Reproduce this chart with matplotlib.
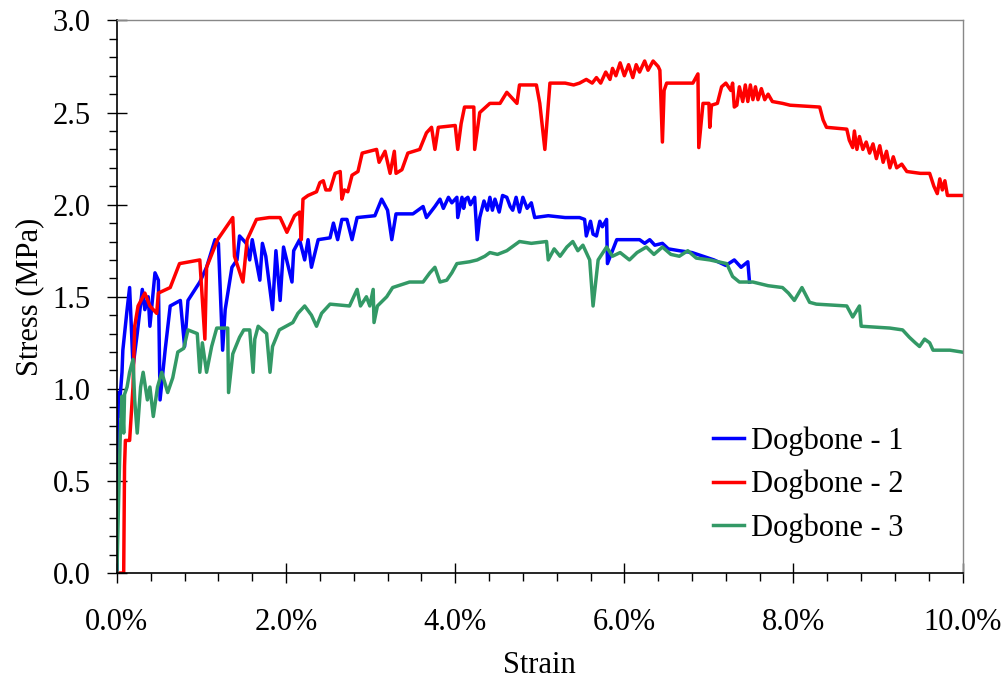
import matplotlib
matplotlib.use("Agg")
import matplotlib.pyplot as plt
from matplotlib.ticker import MultipleLocator, FuncFormatter

plt.rcParams['font.family'] = ['Liberation Serif', 'DejaVu Serif']

# strain in %, stress in MPa
strain_1 = [0.00, 0.01, 0.02, 0.06, 0.07, 0.12, 0.15, 0.17, 0.19, 0.24,
            0.30, 0.33, 0.37, 0.39, 0.45, 0.49, 0.51, 0.57, 0.63, 0.75,
            0.80, 0.84, 0.98, 1.06, 1.16, 1.20, 1.25, 1.28, 1.36, 1.42,
            1.45, 1.53, 1.57, 1.60, 1.69, 1.72, 1.76, 1.84, 1.88, 1.93,
            1.97, 2.07, 2.09, 2.16, 2.22, 2.26, 2.30, 2.38, 2.52, 2.56,
            2.61, 2.66, 2.72, 2.78, 2.84, 3.05, 3.13, 3.20, 3.25, 3.30,
            3.50, 3.62, 3.66, 3.76, 3.82, 3.86, 3.92, 3.96, 4.02, 4.03,
            4.08, 4.10, 4.12, 4.15, 4.18, 4.23, 4.26, 4.29, 4.34, 4.38,
            4.41, 4.44, 4.47, 4.52, 4.56, 4.61, 4.65, 4.68, 4.72, 4.76,
            4.80, 4.85, 4.90, 4.94, 5.10, 5.30, 5.47, 5.53, 5.55, 5.60,
            5.63, 5.67, 5.71, 5.74, 5.79, 5.80, 5.91, 6.18, 6.24, 6.30,
            6.36, 6.45, 6.52, 6.65, 6.80, 6.93, 7.06, 7.20, 7.30, 7.38,
            7.46, 7.48]
stress_1 = [0.00, 0.98, 0.85, 1.09, 1.21, 1.43, 1.55, 1.34, 1.12, 1.30,
            1.54, 1.43, 1.50, 1.34, 1.63, 1.59, 0.94, 1.21, 1.45, 1.48,
            1.23, 1.48, 1.58, 1.66, 1.81, 1.79, 1.21, 1.43, 1.66, 1.70,
            1.83, 1.79, 1.70, 1.81, 1.59, 1.79, 1.72, 1.43, 1.75, 1.48,
            1.77, 1.58, 1.75, 1.81, 1.70, 1.81, 1.66, 1.81, 1.82, 1.90,
            1.81, 1.92, 1.92, 1.81, 1.93, 1.94, 2.03, 1.97, 1.81, 1.95,
            1.95, 1.99, 1.93, 1.99, 2.03, 1.98, 2.04, 2.01, 2.04, 1.93,
            2.04, 1.98, 2.03, 2.04, 2.00, 2.04, 1.81, 1.93, 2.02, 1.97,
            2.04, 1.97, 2.03, 1.96, 2.05, 2.04, 1.99, 1.97, 2.04, 1.96,
            2.04, 1.98, 2.01, 1.93, 1.94, 1.93, 1.93, 1.92, 1.83, 1.91,
            1.84, 1.83, 1.91, 1.88, 1.92, 1.68, 1.81, 1.81, 1.79, 1.81,
            1.78, 1.79, 1.76, 1.75, 1.74, 1.72, 1.70, 1.67, 1.70, 1.66,
            1.69, 1.58]

strain_2 = [0.02, 0.08, 0.09, 0.10, 0.15, 0.19, 0.21, 0.25, 0.33, 0.39,
            0.47, 0.49, 0.63, 0.74, 0.98, 1.04, 1.06, 1.19, 1.37, 1.39,
            1.49, 1.54, 1.65, 1.80, 1.93, 2.01, 2.10, 2.16, 2.18, 2.20,
            2.26, 2.36, 2.40, 2.44, 2.47, 2.52, 2.58, 2.64, 2.66, 2.69,
            2.73, 2.78, 2.85, 2.90, 3.07, 3.10, 3.17, 3.23, 3.28, 3.30,
            3.37, 3.44, 3.58, 3.66, 3.72, 3.76, 3.80, 4.00, 4.03, 4.07,
            4.11, 4.22, 4.23, 4.29, 4.41, 4.53, 4.61, 4.73, 4.76, 4.96,
            5.00, 5.06, 5.12, 5.30, 5.40, 5.47, 5.55, 5.62, 5.67, 5.72,
            5.78, 5.83, 5.86, 5.90, 5.95, 6.00, 6.05, 6.10, 6.14, 6.18,
            6.24, 6.28, 6.34, 6.40, 6.42, 6.45, 6.47, 6.50, 6.81, 6.87,
            6.88, 6.93, 7.00, 7.01, 7.03, 7.10, 7.15, 7.20, 7.26, 7.28,
            7.30, 7.33, 7.36, 7.40, 7.43, 7.46, 7.49, 7.52, 7.55, 7.58,
            7.62, 7.66, 7.70, 7.75, 7.87, 7.96, 8.31, 8.35, 8.39, 8.63,
            8.66, 8.70, 8.72, 8.75, 8.78, 8.82, 8.86, 8.90, 8.94, 8.98,
            9.02, 9.06, 9.10, 9.14, 9.18, 9.22, 9.28, 9.34, 9.50, 9.61,
            9.66, 9.70, 9.73, 9.76, 9.79, 9.82, 10.00]
stress_2 = [0.00, 0.00, 0.58, 0.72, 0.72, 1.01, 1.34, 1.45, 1.52, 1.45,
            1.41, 1.52, 1.55, 1.68, 1.70, 1.27, 1.66, 1.81, 1.93, 1.72,
            1.58, 1.81, 1.92, 1.93, 1.93, 1.85, 1.94, 1.96, 1.81, 2.03,
            2.05, 2.07, 2.12, 2.13, 2.08, 2.08, 2.17, 2.18, 2.03, 2.08,
            2.07, 2.16, 2.18, 2.28, 2.30, 2.23, 2.29, 2.17, 2.29, 2.17,
            2.19, 2.28, 2.30, 2.39, 2.42, 2.30, 2.42, 2.43, 2.30, 2.44,
            2.53, 2.53, 2.30, 2.50, 2.55, 2.55, 2.61, 2.55, 2.65, 2.65,
            2.55, 2.30, 2.66, 2.66, 2.65, 2.66, 2.68, 2.66, 2.69, 2.66,
            2.72, 2.68, 2.74, 2.70, 2.77, 2.70, 2.76, 2.69, 2.76, 2.72,
            2.78, 2.73, 2.78, 2.75, 2.73, 2.34, 2.62, 2.66, 2.66, 2.71,
            2.31, 2.55, 2.55, 2.42, 2.54, 2.55, 2.64, 2.66, 2.62, 2.66,
            2.53, 2.54, 2.64, 2.56, 2.65, 2.56, 2.65, 2.57, 2.64, 2.57,
            2.63, 2.57, 2.60, 2.56, 2.55, 2.54, 2.53, 2.46, 2.42, 2.41,
            2.35, 2.31, 2.40, 2.30, 2.37, 2.30, 2.34, 2.28, 2.33, 2.25,
            2.32, 2.23, 2.29, 2.20, 2.26, 2.20, 2.22, 2.18, 2.17, 2.17,
            2.10, 2.06, 2.14, 2.08, 2.13, 2.05, 2.05]

strain_3 = [0.00, 0.02, 0.04, 0.06, 0.08, 0.09, 0.12, 0.15, 0.19, 0.21,
            0.24, 0.28, 0.31, 0.36, 0.39, 0.43, 0.48, 0.53, 0.60, 0.66,
            0.72, 0.79, 0.84, 0.95, 0.98, 1.01, 1.06, 1.12, 1.18, 1.31,
            1.32, 1.37, 1.45, 1.50, 1.57, 1.61, 1.63, 1.67, 1.77, 1.81,
            1.84, 1.92, 2.08, 2.14, 2.22, 2.30, 2.36, 2.42, 2.52, 2.75,
            2.84, 2.88, 2.95, 2.99, 3.03, 3.04, 3.08, 3.19, 3.26, 3.46,
            3.62, 3.70, 3.76, 3.82, 3.90, 3.96, 4.02, 4.17, 4.26, 4.35,
            4.41, 4.50, 4.61, 4.70, 4.76, 4.90, 5.08, 5.10, 5.17, 5.24,
            5.32, 5.39, 5.45, 5.51, 5.59, 5.63, 5.69, 5.79, 5.86, 5.95,
            6.06, 6.15, 6.26, 6.35, 6.45, 6.55, 6.65, 6.75, 6.85, 7.01,
            7.21, 7.28, 7.36, 7.52, 7.70, 7.87, 7.94, 8.01, 8.10, 8.19,
            8.27, 8.63, 8.70, 8.78, 8.80, 9.14, 9.29, 9.37, 9.44, 9.49,
            9.55, 9.61, 9.65, 9.85, 9.99]
stress_3 = [0.00, 0.40, 0.76, 0.96, 0.76, 0.97, 1.01, 1.09, 1.16, 0.94,
            0.76, 1.01, 1.09, 0.94, 1.01, 0.85, 1.01, 1.09, 0.98, 1.06,
            1.20, 1.22, 1.32, 1.30, 1.09, 1.25, 1.09, 1.23, 1.33, 1.33,
            0.98, 1.19, 1.28, 1.32, 1.32, 1.09, 1.27, 1.34, 1.30, 1.09,
            1.23, 1.32, 1.36, 1.41, 1.45, 1.40, 1.34, 1.41, 1.46, 1.45,
            1.54, 1.45, 1.50, 1.45, 1.54, 1.36, 1.45, 1.50, 1.55, 1.58,
            1.58, 1.63, 1.66, 1.58, 1.59, 1.63, 1.68, 1.69, 1.70, 1.72,
            1.74, 1.73, 1.75, 1.78, 1.80, 1.79, 1.80, 1.70, 1.76, 1.72,
            1.77, 1.80, 1.75, 1.78, 1.70, 1.45, 1.70, 1.77, 1.72, 1.74,
            1.70, 1.74, 1.77, 1.73, 1.77, 1.73, 1.72, 1.75, 1.71, 1.70,
            1.68, 1.61, 1.58, 1.58, 1.56, 1.55, 1.52, 1.48, 1.55, 1.47,
            1.46, 1.45, 1.39, 1.45, 1.34, 1.33, 1.32, 1.28, 1.25, 1.23,
            1.27, 1.25, 1.21, 1.21, 1.20]

labels = ["Dogbone - 1", "Dogbone - 2", "Dogbone - 3"]
colors = ["#0000ff", "#ff0000", "#339966"]

fig = plt.figure(figsize=(10.08, 6.83), dpi=100)
ax = fig.add_axes([0.116, 0.161, 0.839, 0.809])

for x, y, lab, c in zip([strain_1, strain_2, strain_3],
                        [stress_1, stress_2, stress_3], labels, colors):
    ax.plot(x, y, color=c, lw=2.5, label=lab)

ax.set_xlim(0, 10)
ax.set_ylim(0, 3)
ax.xaxis.set_major_locator(MultipleLocator(2))
ax.xaxis.set_minor_locator(MultipleLocator(0.4))
ax.yaxis.set_major_locator(MultipleLocator(0.5))
ax.yaxis.set_minor_locator(MultipleLocator(0.1))
ax.xaxis.set_major_formatter(FuncFormatter(lambda v, p: f"{v:.1f}%"))
ax.yaxis.set_major_formatter(FuncFormatter(lambda v, p: f"{v:.1f}"))

ax.tick_params(which='major', direction='inout', length=14, width=1.0,
               labelsize=22)
ax.tick_params(axis='x', which='major', pad=18)
ax.tick_params(axis='y', which='major', pad=12)
ax.tick_params(which='minor', direction='out', length=6, width=1.0)

for s in ['left', 'bottom']:
    ax.spines[s].set_linewidth(1.2)
for s in ['top', 'right']:
    ax.spines[s].set_color('#888888')
    ax.spines[s].set_linewidth(1.0)

ax.set_xlabel("Strain", fontsize=22, labelpad=10)
ax.set_ylabel("Stress (MPa)", fontsize=22, labelpad=6)

ax.legend(loc='upper left', bbox_to_anchor=(0.705, 0.265), frameon=False,
          fontsize=22, handlelength=1.0, handletextpad=0.25,
          labelspacing=0.45, borderpad=0, borderaxespad=0)

fig.savefig("out.png", dpi=100)
